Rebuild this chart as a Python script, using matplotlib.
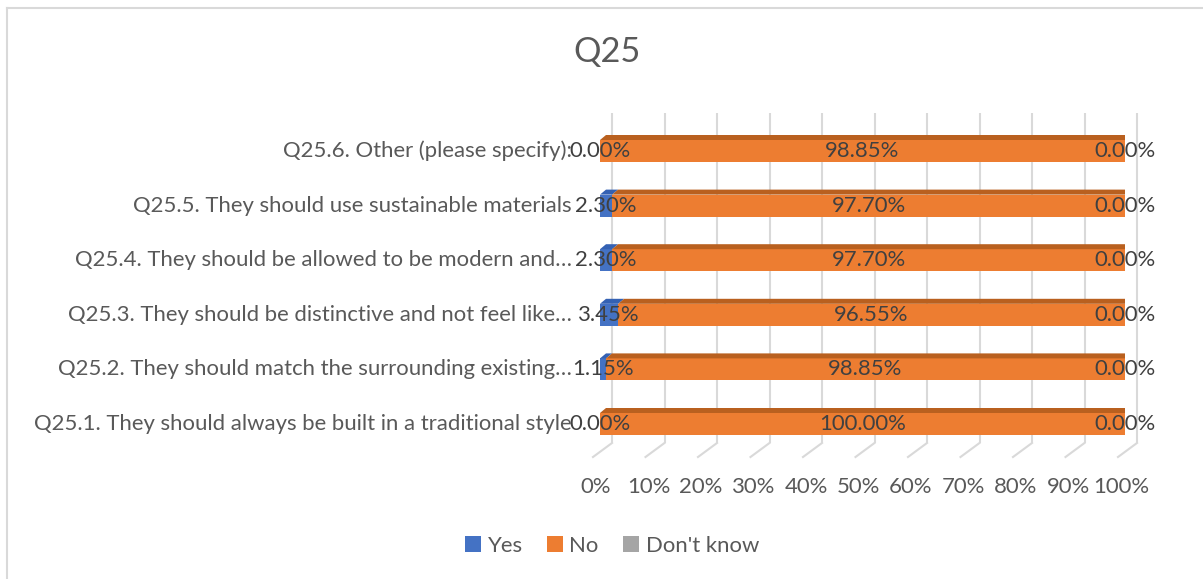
import matplotlib
matplotlib.use("Agg")
import matplotlib.pyplot as plt
from matplotlib.patches import Polygon, Patch
from matplotlib.lines import Line2D

# ---------------- data ----------------
categories = [
    "Q25.1. They should always be built in a traditional style",
    "Q25.2. They should match the surrounding existing…",
    "Q25.3. They should be distinctive and not feel like…",
    "Q25.4. They should be allowed to be modern and…",
    "Q25.5. They should use sustainable materials",
    "Q25.6. Other (please specify):",
]
yes_vals = [0.00, 1.15, 3.45, 2.30, 2.30, 0.00]
no_vals = [100.00, 98.85, 96.55, 97.70, 97.70, 98.85]
dk_vals = [0.00, 0.00, 0.00, 0.00, 0.00, 0.00]
series_names = ["Yes", "No", "Don't know"]
x_ticks = [0, 10, 20, 30, 40, 50, 60, 70, 80, 90, 100]
title = "Q25"

# ---------------- style ----------------
FRONT = ["#4472C4", "#ED7D31", "#A5A5A5"]
TOP = ["#3461B3", "#B9601F", "#7F7F7F"]
SIDE = "#6D7379"
GRID = "#D9D9D9"
TXT = "#595959"
DLBL = "#404040"
FONT = "Lato"

W, H = 1203, 579
fig = plt.figure(figsize=(W / 100, H / 100), dpi=100)

# axes geometry (pixels): x=0 -> 600px, x=1 -> 1125px; row pitch 54.6px, row0 centre at 424px
x0p, x1p = 600, 1125
row0, pitch = 424, 54.6
ylo, yhi = -1, 6
ax = fig.add_axes([x0p / W, 1 - (row0 - ylo * pitch) / H, (x1p - x0p) / W,
                   ((yhi - ylo) * pitch) / H])
ax.set_xlim(0, 1)
ax.set_ylim(ylo, yhi)
ax.axis("off")

PX = 1.0 / (x1p - x0p)
PY = 1.0 / pitch

def ypix(p):
    return (row0 - p) / pitch

# fit font size to reference text width
probe = fig.text(0, 0, categories[0], fontsize=10, family=FONT)
fig.canvas.draw()
wpx = probe.get_window_extent().width
probe.remove()
base = 10 * 537 / wpx

# back grid lines & floor diagonals
floor_front, floor_back, grid_top = ypix(457), ypix(443), ypix(113)
for t in x_ticks:
    v = t / 100
    ax.plot([v + 12 * PX] * 2, [floor_back, grid_top], color=GRID, lw=1.5,
            clip_on=False, zorder=1, solid_capstyle="butt")
    ax.plot([v - 7 * PX, v + 12 * PX], [floor_front, floor_back], color=GRID,
            lw=1.5, clip_on=False, zorder=1)
    ax.text(v - 4 * PX, ypix(487), f"{t}%", ha="center", va="center",
            fontsize=base, color=TXT, family=FONT, clip_on=False)

bh = 22 * PY
dx, dy = 6 * PX, 5 * PY
for i, cat in enumerate(categories):
    vals = [yes_vals[i], no_vals[i], dk_vals[i]]
    tot = sum(vals)
    widths = [v / tot for v in vals]
    left = 0.0
    bot, top = i - bh / 2, i + bh / 2
    for k, (w, v) in enumerate(zip(widths, vals)):
        if w > 0:
            ax.barh(i, w, left=left, height=bh, color=FRONT[k], zorder=3,
                    linewidth=0)
            ax.add_patch(Polygon([(left, top), (left + w, top),
                                  (left + w + dx, top + dy), (left + dx, top + dy)],
                                 closed=True, color=TOP[k], zorder=3, lw=0))
        left_prev = left
        left += w
    R = left
    ax.add_patch(Polygon([(R, bot), (R, top), (R + dx, top + dy), (R + dx, bot + dy)],
                         closed=True, color=SIDE, zorder=3, lw=0))
    # data labels
    l = 0.0
    for k, (w, v) in enumerate(zip(widths, vals)):
        ax.text(l + w / 2, i, f"{v:.2f}%", ha="center", va="center",
                fontsize=base, color=DLBL, family=FONT, zorder=5, clip_on=False)
        l += w
    ax.text(-28 * PX, i, cat, ha="right", va="center", fontsize=base,
            color=TXT, family=FONT, clip_on=False)

fig.text(607 / W, 1 - 52 / H, title, ha="center", va="center",
         fontsize=base * 14 / 9, color=TXT, family=FONT)

handles = [Patch(facecolor=c, edgecolor="none") for c in FRONT]
fig.legend(handles, series_names, loc="center", bbox_to_anchor=(612 / W, 1 - 546 / H),
           ncol=3, frameon=False, handlelength=0.72, handleheight=0.72,
           handletextpad=0.3, columnspacing=1.1,
           prop={"family": FONT, "size": base}, labelcolor=TXT)

# chart frame (left and top edges visible)
fig.add_artist(Line2D([7 / W, 7 / W], [0, 1 - 7.5 / H], color=GRID, lw=1.5,
                      transform=fig.transFigure))
fig.add_artist(Line2D([7 / W, 1202 / W], [1 - 7.5 / H, 1 - 7.5 / H], color=GRID,
                      lw=1.5, transform=fig.transFigure))

fig.savefig("out.png", dpi=100, facecolor="white")
